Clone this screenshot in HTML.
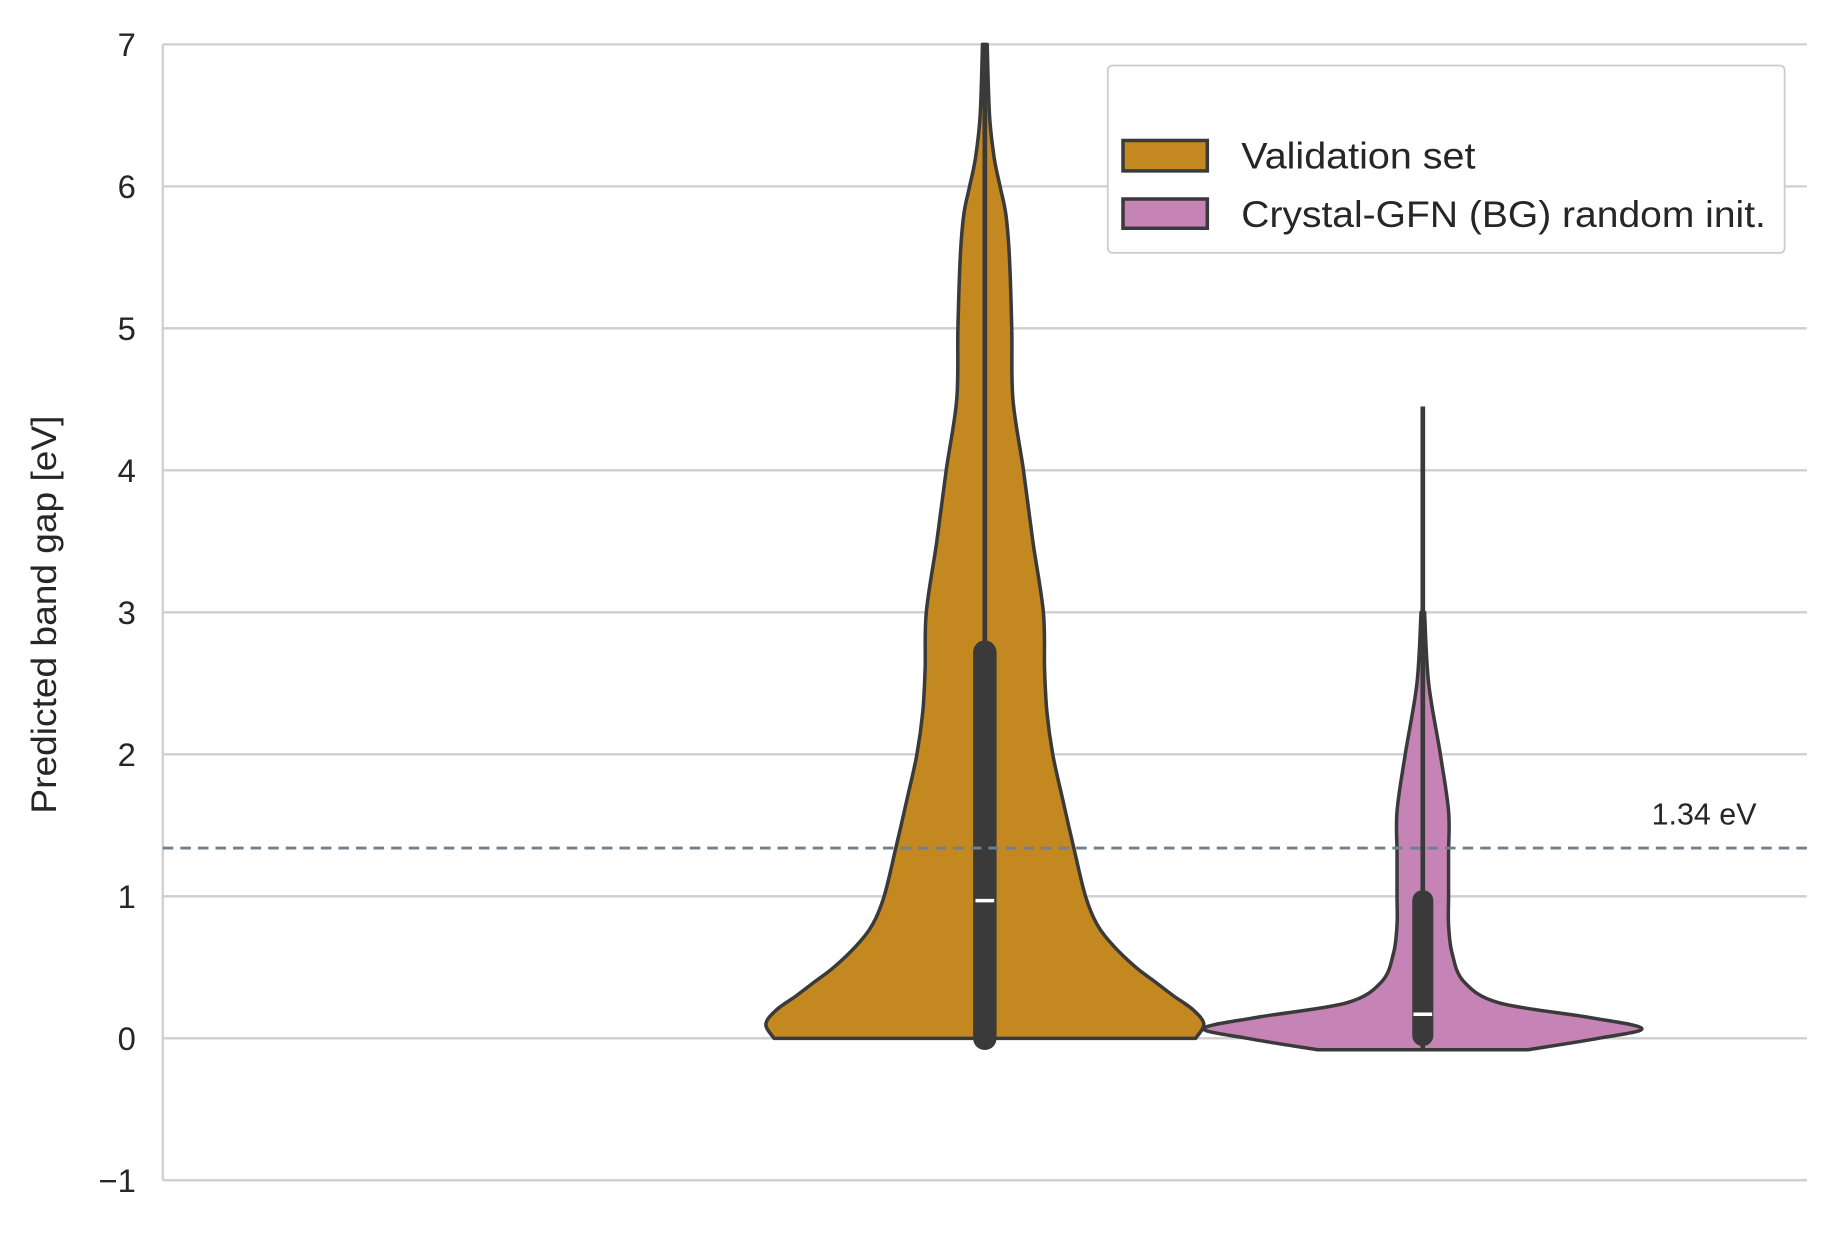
<!DOCTYPE html>
<html><head><meta charset="utf-8"><style>html,body{margin:0;padding:0;background:#fff}svg{display:block}text{font-family:"Liberation Sans",sans-serif;fill:#262626}</style></head>
<body>
<svg id="chart" width="1835" height="1235" viewBox="0 0 1567 1055" preserveAspectRatio="none" xmlns="http://www.w3.org/2000/svg">
<g id="grid"></g>
<g id="yaxis"></g>
<text transform="translate(48,525) rotate(-90)" text-anchor="middle" font-size="30" textLength="340" lengthAdjust="spacingAndGlyphs">Predicted band gap [eV]</text>
<g id="violins"></g>
<g id="refline"></g>
<g>
<rect x="946" y="56" width="578" height="160" rx="4" fill="#fff" stroke="#ccc" stroke-width="1.5"/>
<rect x="959" y="120" width="72" height="26" fill="#c38820" stroke="#3a3a3a" stroke-width="3"/>
<text x="1060" y="144" font-size="32" textLength="200" lengthAdjust="spacingAndGlyphs">Validation set</text>
<rect x="959" y="170" width="72" height="25" fill="#c583b6" stroke="#3a3a3a" stroke-width="3"/>
<text x="1060" y="194" font-size="32" textLength="448" lengthAdjust="spacingAndGlyphs">Crystal-GFN (BG) random init.</text>
</g>
</svg>
<script>
const yTicks=[-1,0,1,2,3,4,5,6,7];
const refValue=1.34;
const refLabel="1.34 eV";
const v1Y=[0,0.1,0.2,0.3,0.4,0.5,0.65,0.8,1.0,1.34,1.7,2.0,2.3,2.6,3.0,3.5,4.0,4.5,5.0,5.5,5.8,6.0,6.2,6.5,7.0];
const v1W=[180,187,178,161,145,129,110,96,86,76,66,58,53,51,50,41,33,24,23,21,18,13,8,4,2];
const v2Y=[-0.08,0.0,0.07,0.15,0.25,0.4,0.6,0.8,1.0,1.3,1.6,2.0,2.5,3.0];
const v2W=[90,150,187,140,65,35,25,22,22,22,22,15,5,1.5];
const boxes=[{c:841,wlo:0,whi:7,q1:0,q3:2.72,med:0.97,fill:"#c38820",ys:v1Y,ws:v1W},
             {c:1215,wlo:-0.08,whi:4.45,q1:0.02,q3:0.97,med:0.17,fill:"#c583b6",ys:v2Y,ws:v2W}];
const NS="http://www.w3.org/2000/svg";
const X0=139,X1=1543;
function Y(v){return 887-v*121.3;}
function mk(t,a,p){const e=document.createElementNS(NS,t);for(const k in a)e.setAttribute(k,a[k]);p.appendChild(e);return e;}
function smooth(pts){let d='M'+pts[0][0]+','+pts[0][1];
  for(let i=0;i<pts.length-1;i++){const p0=pts[Math.max(0,i-1)],p1=pts[i],p2=pts[i+1],p3=pts[Math.min(pts.length-1,i+2)];
    const c1=[p1[0]+(p2[0]-p0[0])/6,p1[1]+(p2[1]-p0[1])/6],c2=[p2[0]-(p3[0]-p1[0])/6,p2[1]-(p3[1]-p1[1])/6];
    d+=' C'+c1[0]+','+c1[1]+' '+c2[0]+','+c2[1]+' '+p2[0]+','+p2[1];}
  return d;}
const grid=document.getElementById('grid'),yax=document.getElementById('yaxis');
yTicks.forEach(t=>{
  const l=mk('line',{x1:X0,x2:X1,y1:Y(t),y2:Y(t),stroke:'#cfcfcf','stroke-width':2},grid);
  
  
  const tx=mk('text',{x:116,y:Y(t)+10,'text-anchor':'end','font-size':28},yax);
  tx.textContent=t<0?'\u2212'+(-t):String(t);
  
  
});
const ax=mk('line',{x1:X0,x2:X0,y1:Y(7),y2:Y(-1),stroke:'#cfcfcf','stroke-width':2},yax);


const bx=mk('line',{x1:X0,x2:X1,y1:Y(-1),y2:Y(-1),stroke:'#cfcfcf','stroke-width':2},yax);


const vg=document.getElementById('violins');
boxes.forEach((b,i)=>{
  const right=[],left=[];
  for(let k=0;k<b.ys.length;k++)right.push([b.c+b.ws[k],Y(b.ys[k])]);
  for(let k=b.ys.length-1;k>=0;k--)left.push([b.c-b.ws[k],Y(b.ys[k])]);
  const d=smooth(right)+' L'+smooth(left).slice(1)+' Z';
  const p=mk('path',{d:d,fill:b.fill,stroke:'#3a3a3a','stroke-width':3,'stroke-linejoin':'round'},vg);
  
  
  const w=mk('line',{x1:b.c,x2:b.c,y1:Y(b.wlo),y2:Y(b.whi),stroke:'#3a3a3a','stroke-width':4},vg);
  
  
  const bw=i==0?20:18;
  const q=mk('line',{x1:b.c,x2:b.c,y1:Y(b.q1),y2:Y(b.q3),stroke:'#3a3a3a','stroke-width':bw,'stroke-linecap':'round'},vg);
  
  
  const m=mk('line',{x1:b.c-8,x2:b.c+8,y1:Y(b.med),y2:Y(b.med),stroke:'#fff','stroke-width':3},vg);
  
  
});
const rg=document.getElementById('refline');
const rl=mk('line',{x1:X0,x2:X1,y1:Y(refValue),y2:Y(refValue),stroke:'#708090','stroke-width':2.5,'stroke-dasharray':'9,6'},rg);


const rt=mk('text',{x:1500,y:Y(refValue)-20,'text-anchor':'end','font-size':26},rg);
rt.textContent=refLabel;


</script>
</body></html>
